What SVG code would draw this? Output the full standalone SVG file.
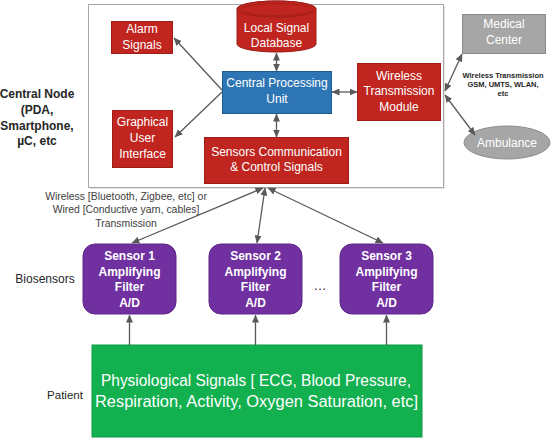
<svg xmlns="http://www.w3.org/2000/svg" width="553" height="440" viewBox="0 0 553 440">
<defs>
<marker id="ah" viewBox="0 0 8 7" refX="7.5" refY="3.5" markerWidth="8" markerHeight="7" markerUnits="userSpaceOnUse" orient="auto-start-reverse">
<path d="M0,0 L8,3.5 L0,7 z" fill="#595959"/>
</marker>
</defs>
<style>
text{font-family:"Liberation Sans",Arial,sans-serif;text-anchor:middle}
.red{fill:#c0261f;stroke:#9e1d17;stroke-width:1}
.wt{fill:#ffffff;font-size:12px}
.wb{fill:#ffffff;font-size:12px;font-weight:bold}
.lbl{fill:#262626}
.ln{stroke:#595959;stroke-width:1.3;fill:none}
</style>
<rect width="553" height="440" fill="#ffffff"/>

<g id="central-node">
<rect x="90" y="6" width="355" height="183" fill="#e6e6e6"/>
<rect x="88.5" y="4.5" width="355" height="183" fill="#ffffff" stroke="#a6a6a6" stroke-width="1"/>
</g>

<g id="central-node-label">
<text class="lbl" x="37" y="98" font-size="12" font-weight="bold">Central Node</text>
<text class="lbl" x="37" y="114" font-size="12" font-weight="bold">(PDA,</text>
<text class="lbl" x="37" y="129.5" font-size="12" font-weight="bold">Smartphone,</text>
<text class="lbl" x="37" y="145" font-size="12" font-weight="bold">µC, etc</text>
</g>

<g id="alarm">
<rect class="red" x="111.5" y="21.5" width="61" height="32"/>
<text class="wt" x="142" y="33">Alarm</text>
<text class="wt" x="142" y="49">Signals</text>
</g>

<g id="database">
<path class="red" d="M237,9 L237,44 A39.5,8 0 0 0 316,44 L316,9 A39.5,8 0 0 0 237,9 Z"/>
<ellipse cx="276.5" cy="9" rx="39.5" ry="8" fill="#c0261f" stroke="#9e1d17" stroke-width="1"/>
<ellipse cx="276.5" cy="9.5" rx="36" ry="6" fill="none" stroke="#9e1d17" stroke-width="0.7"/>
<text class="wt" x="276.5" y="32">Local Signal</text>
<text class="wt" x="276.5" y="47">Database</text>
</g>

<g id="cpu">
<rect x="222.5" y="71.5" width="109" height="42" fill="#2e75b6" stroke="#1f5a90" stroke-width="1"/>
<text class="wt" x="277" y="87">Central Processing</text>
<text class="wt" x="277" y="103">Unit</text>
</g>

<g id="wireless-module">
<rect class="red" x="357.5" y="63.5" width="83" height="57"/>
<text class="wt" x="399" y="80">Wireless</text>
<text class="wt" x="399" y="95">Transmission</text>
<text class="wt" x="399" y="111">Module</text>
</g>

<g id="gui">
<rect class="red" x="112.5" y="110.5" width="60" height="57"/>
<text class="wt" x="142.5" y="126">Graphical</text>
<text class="wt" x="142.5" y="142">User</text>
<text class="wt" x="142.5" y="158">Interface</text>
</g>

<g id="sensors-comm">
<rect class="red" x="204.5" y="137.5" width="144" height="46"/>
<text class="wt" x="276.5" y="156">Sensors Communication</text>
<text class="wt" x="276.5" y="171">&amp; Control Signals</text>
</g>

<g id="medical-center">
<rect x="462.5" y="14.5" width="83" height="39" fill="#a6a6a6" stroke="#8c8c8c" stroke-width="1"/>
<text class="wt" x="504" y="28">Medical</text>
<text class="wt" x="504" y="44">Center</text>
</g>

<g id="ambulance">
<ellipse cx="507" cy="142.5" rx="43" ry="16.5" fill="#a6a6a6" stroke="#8c8c8c" stroke-width="1"/>
<text class="wt" x="507" y="146.5">Ambulance</text>
</g>

<g id="wireless-label">
<text class="lbl" x="503" y="78" font-size="7.5" font-weight="bold">Wireless Transmission</text>
<text class="lbl" x="503" y="87" font-size="7.5" font-weight="bold">GSM, UMTS, WLAN,</text>
<text class="lbl" x="503" y="96" font-size="7.5" font-weight="bold">etc</text>
</g>

<g id="transmission-label">
<text fill="#404040" x="126" y="199.5" font-size="10.4">Wireless [Bluetooth, Zigbee, etc] or</text>
<text fill="#404040" x="126" y="213" font-size="10.4">Wired [Conductive yarn, cables]</text>
<text fill="#404040" x="126" y="226.5" font-size="10.4">Transmission</text>
</g>

<g id="biosensors-label">
<text class="lbl" x="45" y="283" font-size="12">Biosensors</text>
</g>

<g id="sensor1">
<rect x="83" y="244" width="93" height="70" rx="12" fill="#7030a0" stroke="#5e2787" stroke-width="1"/>
<text class="wb" x="129.5" y="260">Sensor 1</text>
<text class="wb" x="129.5" y="275.5">Amplifying</text>
<text class="wb" x="129.5" y="291">Filter</text>
<text class="wb" x="129.5" y="307">A/D</text>
</g>

<g id="sensor2">
<rect x="209" y="244" width="93" height="70" rx="12" fill="#7030a0" stroke="#5e2787" stroke-width="1"/>
<text class="wb" x="255.5" y="260">Sensor 2</text>
<text class="wb" x="255.5" y="275.5">Amplifying</text>
<text class="wb" x="255.5" y="291">Filter</text>
<text class="wb" x="255.5" y="307">A/D</text>
</g>

<g id="ellipsis">
<text class="lbl" x="320" y="290" font-size="13">…</text>
</g>

<g id="sensor3">
<rect x="340" y="244" width="93" height="70" rx="12" fill="#7030a0" stroke="#5e2787" stroke-width="1"/>
<text class="wb" x="386.5" y="260">Sensor 3</text>
<text class="wb" x="386.5" y="275.5">Amplifying</text>
<text class="wb" x="386.5" y="291">Filter</text>
<text class="wb" x="386.5" y="307">A/D</text>
</g>

<g id="patient-label">
<text class="lbl" x="65" y="399" font-size="11.5">Patient</text>
</g>

<g id="patient">
<rect x="92" y="345" width="330" height="92" fill="#12b04f" stroke="#0e9a44" stroke-width="1"/>
<text fill="#ffffff" x="256" y="386" font-size="16.3" textLength="310" lengthAdjust="spacingAndGlyphs">Physiological Signals [ ECG, Blood Pressure,</text>
<text fill="#ffffff" x="256.5" y="407" font-size="16.3" textLength="323" lengthAdjust="spacingAndGlyphs">Respiration, Activity, Oxygen Saturation, etc]</text>
</g>

<g id="connectors">
<line class="ln" x1="222" y1="90" x2="174" y2="38" marker-end="url(#ah)"/>
<line class="ln" x1="222" y1="92" x2="175" y2="137" marker-end="url(#ah)"/>
<line class="ln" x1="276.5" y1="53" x2="276.5" y2="71" marker-start="url(#ah)" marker-end="url(#ah)"/>
<line class="ln" x1="276.5" y1="114" x2="276.5" y2="137" marker-start="url(#ah)" marker-end="url(#ah)"/>
<line class="ln" x1="332" y1="92" x2="357" y2="92" marker-start="url(#ah)" marker-end="url(#ah)"/>
<line class="ln" x1="445" y1="91" x2="462" y2="54" marker-start="url(#ah)" marker-end="url(#ah)"/>
<line class="ln" x1="445" y1="95" x2="475" y2="135" marker-start="url(#ah)" marker-end="url(#ah)"/>
<line class="ln" x1="263" y1="188" x2="132" y2="243" marker-start="url(#ah)" marker-end="url(#ah)"/>
<line class="ln" x1="265" y1="188" x2="257" y2="243" marker-start="url(#ah)" marker-end="url(#ah)"/>
<line class="ln" x1="268" y1="188" x2="383" y2="243" marker-start="url(#ah)" marker-end="url(#ah)"/>
<line class="ln" x1="129.5" y1="345" x2="129.5" y2="315" marker-end="url(#ah)"/>
<line class="ln" x1="255.5" y1="345" x2="255.5" y2="315" marker-end="url(#ah)"/>
<line class="ln" x1="386.5" y1="345" x2="386.5" y2="315" marker-end="url(#ah)"/>
</g>
</svg>
